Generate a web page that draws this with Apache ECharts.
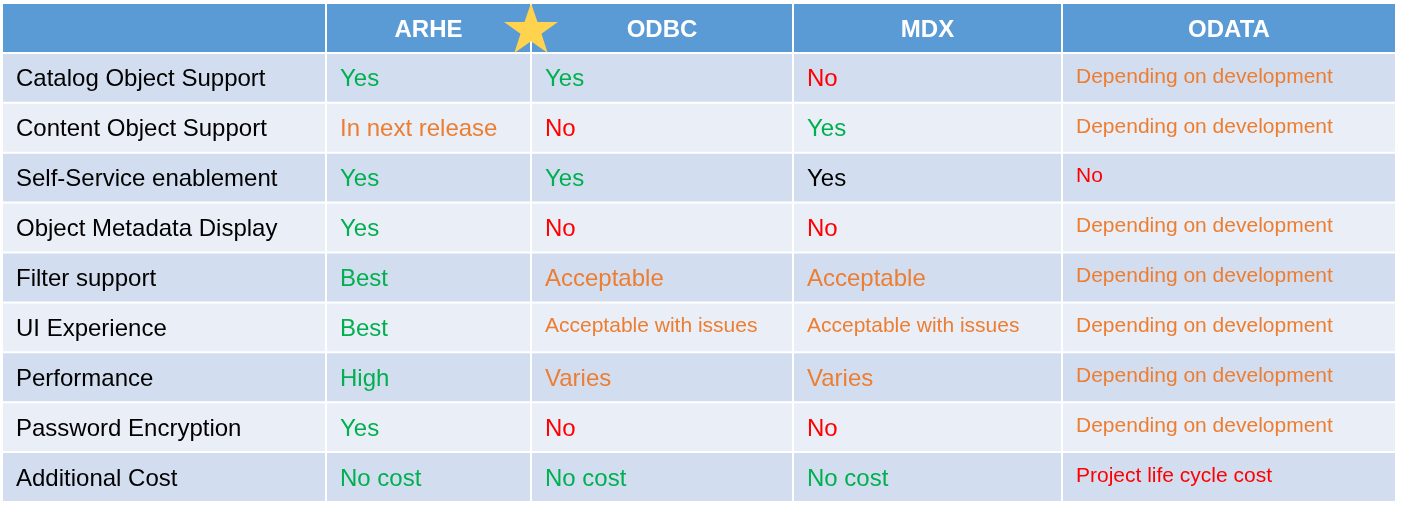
<!DOCTYPE html>
<html><head><meta charset="utf-8">
<script src="https://cdn.jsdelivr.net/npm/echarts@6/dist/echarts.min.js"></script>
<style>html,body{margin:0;padding:0;background:#fff}#c{width:1401px;height:513px}</style>
</head><body><div id="c"></div>
<script>
const headers = ['', 'ARHE', 'ODBC', 'MDX', 'ODATA'];
const features = ['Catalog Object Support','Content Object Support','Self-Service enablement','Object Metadata Display','Filter support','UI Experience','Performance','Password Encryption','Additional Cost'];
const arhe = ['Yes','In next release','Yes','Yes','Best','Best','High','Yes','No cost'];
const arheC = ['g','o','g','g','g','g','g','g','g'];
const odbc = ['Yes','No','Yes','No','Acceptable','Acceptable with issues','Varies','No','No cost'];
const odbcC = ['g','r','g','r','o','o','o','r','g'];
const mdx = ['No','Yes','Yes','No','Acceptable','Acceptable with issues','Varies','No','No cost'];
const mdxC = ['r','g','k','r','o','o','o','r','g'];
const odata = ['Depending on development','Depending on development','No','Depending on development','Depending on development','Depending on development','Depending on development','Depending on development','Project life cycle cost'];
const odataC = ['o','o','r','o','o','o','o','o','r'];

const palette = {g:'#00B050', r:'#FF0000', o:'#ED7D31', k:'#000000'};
const colEdges = [0, 324, 529, 791, 1060, 1394];
const cols = [features.map(()=> 'k'), arheC, odbcC, mdxC, odataC];
const vals = [features, arhe, odbc, mdx, odata];

const data = [];
for (let c = 0; c < 5; c++) {
  data.push([c, 0, headers[c], 'h']);
  for (let r = 0; r < features.length; r++) data.push([c, r + 1, vals[c][r], cols[c][r]]);
}

const chart = echarts.init(document.getElementById('c'));
chart.setOption({
  animation: false,
  grid: {left: 2, right: 5, top: 3, bottom: 11},
  xAxis: {type: 'value', min: 0, max: 1394, show: false},
  yAxis: {type: 'category', data: ['h'].concat(features), inverse: true, show: false},
  series: [{
    type: 'custom',
    data: data,
    renderItem: function (params, api) {
      const c = api.value(0), r = api.value(1);
      const txt = data[params.dataIndex][2], col = data[params.dataIndex][3];
      const center = api.coord([0, r]);
      const h = api.size([0, 1])[1];
      const x0 = api.coord([colEdges[c], 0])[0], x1 = api.coord([colEdges[c + 1], 0])[0];
      const y0 = center[1] - h / 2;
      let fill = r === 0 ? '#5B9BD5' : (r % 2 === 1 ? '#D2DEEF' : '#EAEFF7');
      let size = 24, dy = 2;
      if (c === 4 && r > 0) { size = 21; dy = -1; }
      if (txt === 'Acceptable with issues') { size = 21; dy = -1; }
      const isH = r === 0;
      return {
        type: 'group',
        children: [
          {type: 'rect', shape: {x: x0 + 1, y: y0 + 1, width: x1 - x0 - 2, height: h - 2}, style: {fill: fill}},
          {type: 'text', style: {
            text: txt, x: isH ? (x0 + x1) / 2 : x0 + 14, y: center[1] + dy,
            align: isH ? 'center' : 'left', verticalAlign: 'middle',
            fill: isH ? '#ffffff' : palette[col],
            font: (isH ? 'bold ' : '') + size + 'px "Liberation Sans", Arial, sans-serif'
          }}
        ]
      };
    }
  }, {
    type: 'scatter',
    data: [[529, 'h']],
    symbol: 'path://M50,0 L61.8,35.3 L99,35.3 L69,57.3 L80.3,92.7 L50,70.8 L19.7,92.7 L31,57.3 L1,35.3 L38.2,35.3 Z',
    symbolSize: [54, 50],
    itemStyle: {color: '#FFD34D', opacity: 1},
    z: 10
  }]
});
</script></body></html>
